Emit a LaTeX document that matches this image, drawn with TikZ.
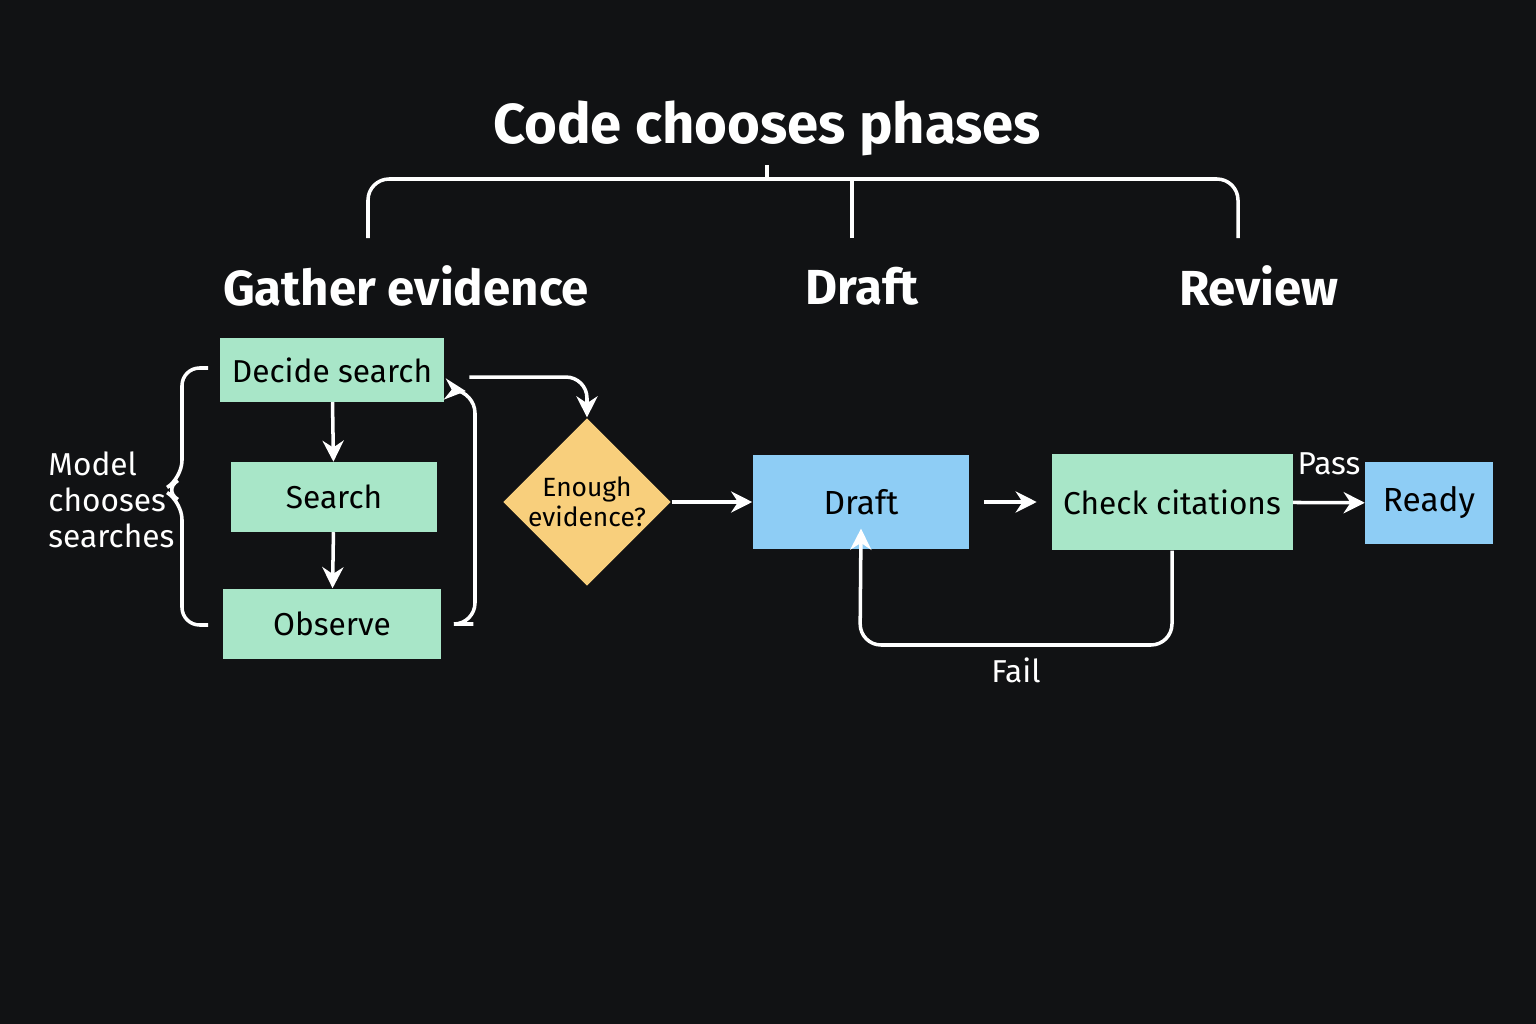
\documentclass[tikz,border=0pt]{standalone}
\usepackage{fontspec}
\setmainfont{Fira Sans}
\usetikzlibrary{arrows.meta,shapes.geometric,decorations.pathreplacing}
\definecolor{bg}{HTML}{111214}
\definecolor{mint}{HTML}{A8E6C8}
\definecolor{sky}{HTML}{8ECDF5}
\definecolor{gold}{HTML}{F8CF7C}
\tikzset{
  greenbox/.style={rectangle, fill=mint, text=black, font=\fontsize{9}{10}\selectfont},
  bluebox/.style={rectangle, fill=sky, text=black, font=\fontsize{9.5}{10}\selectfont},
  phase/.style={text=white, font=\bfseries\fontsize{14}{16}\selectfont},
  wire/.style={draw=white, line width=1pt, rounded corners=6pt},
}
\begin{document}
\begin{tikzpicture}[x=0.01cm, y=-0.01cm, >={Stealth[length=6pt,width=6pt]}]
  % Background
  \fill[bg] (0,0) rectangle (1536,1024);

  % Headings
  \node[phase, font=\bfseries\fontsize{16}{18}\selectfont] (code) at (767,128) {Code chooses phases};
  \node[phase] (gather) at (406,286) {Gather evidence};
  \node[phase] (draftlbl) at (862,286) {Draft};
  \node[phase] (review) at (1259,286) {Review};

  % Bracket
  \coordinate (bl) at (368,238);
  \coordinate (br) at (1238,238);
  \coordinate (bm) at (852,238);
  \coordinate (bt) at (767,165);
  \draw[wire] (bl) |- (1238,179) -- (br);
  \draw[wire] (bm) -- (852,179);
  \draw[wire] (bt) -- (767,179);

  % Blocks
  \node[greenbox, minimum width=2.24cm, minimum height=0.63cm] (decide) at (332,370) {Decide search};
  \node[greenbox, minimum width=2.06cm, minimum height=0.69cm] (search) at (334,497) {Search};
  \node[greenbox, minimum width=2.18cm, minimum height=0.70cm] (observe) at (332,624) {Observe};
  \node[diamond, fill=gold, text=black, minimum width=1.6cm, minimum height=1.5cm, inner sep=0pt,
        align=center, font=\fontsize{7.5}{8.5}\selectfont] (enough) at (587,502) {Enough\\evidence?};
  \node[bluebox, minimum width=2.16cm, minimum height=0.94cm] (draft) at (861,502) {Draft};
  \node[greenbox, minimum width=2.18cm, minimum height=0.96cm] (check) at (1172,502) {Check citations};
  \node[bluebox, minimum width=1.27cm, minimum height=0.82cm] (ready) at (1429,503) {Ready};

  % Left brace
  \draw[wire, rounded corners=5pt] (208,368) -- (182,368) -- (182,478) -- (163,490) -- (182,502) -- (182,625) -- (208,625);
  \node[text=white, align=left, anchor=west, font=\fontsize{9}{10.2}\selectfont] (model) at (36,500) {Model\\chooses\\searches};

  % Connections
  \draw[wire, ->] (decide) -- (search);
  \draw[wire, ->] (search) -- (observe);
  \draw[wire, ->] ([xshift=9pt]observe.east) -| (475,392) -- ([xshift=6pt,yshift=-6pt]decide.east);
  \draw[wire, ->] ([xshift=7pt,yshift=-2pt]decide.east) -| (enough.north);
  \draw[wire, ->] (enough) -- (draft);
  \draw[wire, ->] ([xshift=4pt]draft.east) -- ([xshift=-4pt]check.west);
  \draw[wire, ->] (check) -- node[above, text=white, font=\fontsize{9}{10}\selectfont, yshift=4pt] {Pass} (ready);
  \draw[wire, ->] (check.south) |- (860,645) -- ([yshift=6pt]draft.south);
  \node[text=white, font=\fontsize{9}{10}\selectfont] (fail) at (1016,670) {Fail};
\end{tikzpicture}
\end{document}
